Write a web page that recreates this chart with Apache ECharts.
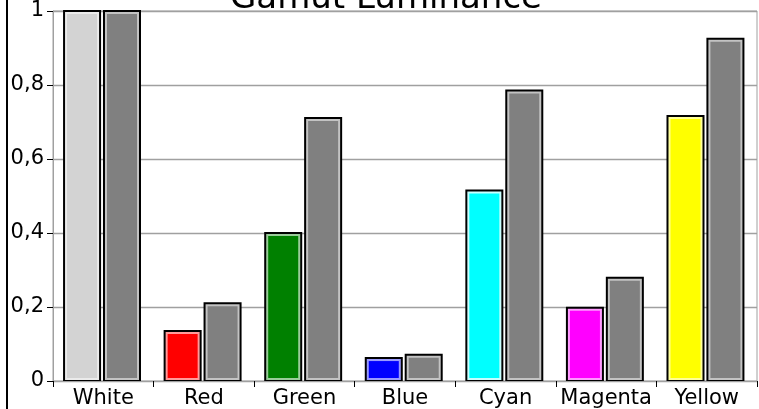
<!DOCTYPE html>
<html><head><meta charset="utf-8">
<script src="https://cdn.jsdelivr.net/npm/echarts@6/dist/echarts.min.js"></script>
<style>html,body{margin:0;padding:0;background:#fff}#c{width:759px;height:409px}</style>
</head><body><div id="c"></div>
<script>
const categories = ['White','Red','Green','Blue','Cyan','Magenta','Yellow'];
const colorLuminance = [1, 0.135, 0.40, 0.062, 0.515, 0.198, 0.716];
const grayLuminance = [1, 0.21, 0.711, 0.071, 0.785, 0.279, 0.925];
const yTicks = [0, 0.2, 0.4, 0.6, 0.8, 1];

const fillColors = ['#d3d3d3','#ff0000','#008000','#0000ff','#00ffff','#ff00ff','#ffff00'];
const bandColors = ['#ebebeb','#ff9a9a','#9acc9a','#9a9aff','#c8ffff','#ff9aff','#ffff9a'];
const FONT = 'DejaVu Sans';

function makeRender(slot, fills, bands) {
  return function (params, api) {
    const cat = api.value(0), v = api.value(1);
    const base = api.coord([cat, 0]);
    const top = api.coord([cat, v]);
    const catW = api.size([1, 0])[0];
    const bw = catW * 0.378;
    const x0 = base[0] - catW / 2 + catW * (slot === 0 ? 0.1 : 0.497);
    const y0 = top[1] - 1, y1 = base[1];
    const h = y1 - y0;
    const fill = fills[cat], band = bands[cat];
    return {
      type: 'group',
      children: [
        {type: 'rect', shape: {x: x0, y: y0, width: bw, height: h}, style: {fill: '#000'}},
        {type: 'rect', shape: {x: x0 + 2, y: y0 + 2, width: bw - 4, height: h - 3}, style: {fill: band}},
        {type: 'rect', shape: {x: x0 + 4, y: y0 + 4, width: bw - 8, height: h - 7}, style: {fill: fill}}
      ]
    };
  };
}

const chart = echarts.init(document.getElementById('c'));
chart.setOption({
  animation: false,
  backgroundColor: '#fff',
  grid: {left: 53, right: 2, top: 11, bottom: 26, show: true, borderColor: '#a0a0a0', borderWidth: 1},
  xAxis: {
    type: 'category', data: categories,
    axisLine: {lineStyle: {color: '#a0a0a0', width: 1}},
    axisTick: {show: true, length: 6, lineStyle: {color: '#000', width: 1}},
    axisLabel: {color: '#000', fontFamily: FONT, fontSize: 21, margin: 7, interval: 0}
  },
  yAxis: {
    type: 'value', min: yTicks[0], max: yTicks[yTicks.length - 1], interval: 0.2,
    axisLine: {show: true, lineStyle: {color: '#a0a0a0', width: 1}},
    axisTick: {show: true, length: 6, lineStyle: {color: '#000', width: 1}},
    splitLine: {lineStyle: {color: '#a0a0a0', width: 1.3}},
    axisLabel: {color: '#000', fontFamily: FONT, fontSize: 21, margin: 9,
      formatter: v => String(Math.round(v * 10) / 10).replace('.', ',')}
  },
  series: [
    {type: 'custom', renderItem: makeRender(0, fillColors, bandColors),
      data: colorLuminance.map((v, i) => [i, v]), encode: {x: 0, y: 1}, clip: false},
    {type: 'custom', renderItem: makeRender(1, categories.map(() => '#808080'), categories.map(() => '#c3c3c3')),
      data: grayLuminance.map((v, i) => [i, v]), encode: {x: 0, y: 1}, clip: false}
  ],
  graphic: [
    {type: 'line', shape: {x1: 7, y1: 0, x2: 7, y2: 409}, style: {stroke: '#000', lineWidth: 2}},
    {type: 'text', x: 386, y: -1, style: {text: 'Gamut Luminance', font: '34px "DejaVu Sans"', fill: '#000', align: 'center', verticalAlign: 'middle'}}
  ]
});
</script></body></html>
